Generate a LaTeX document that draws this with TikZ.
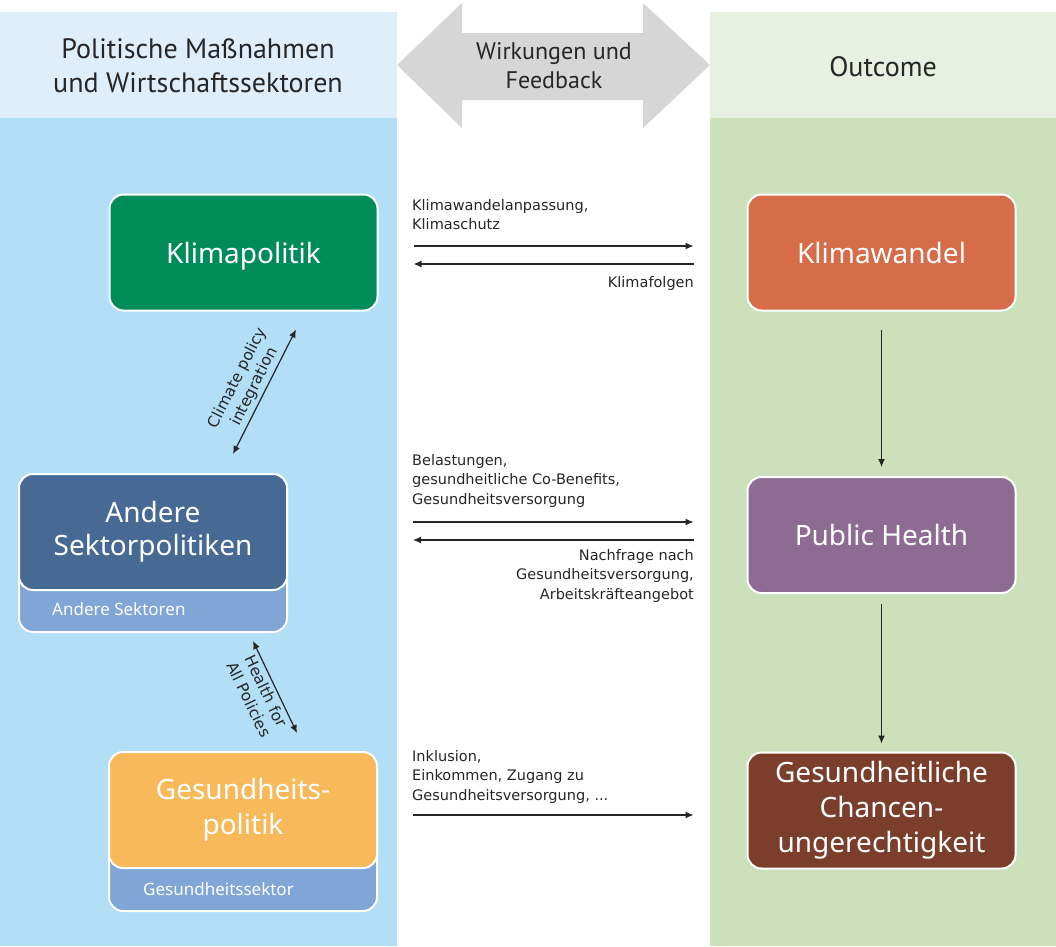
\documentclass[tikz,border=0pt]{standalone}
\usepackage{fontspec}
\setmainfont{Noto Sans}
\newfontfamily\headfont{PT Sans}
\newfontfamily\labfont{DejaVu Sans}
\usetikzlibrary{arrows.meta}
\definecolor{bluehead}{RGB}{222,239,251}
\definecolor{bluebody}{RGB}{178,222,246}
\definecolor{greenhead}{RGB}{232,240,225}
\definecolor{greenbody}{RGB}{204,224,188}
\definecolor{grayarrow}{RGB}{214,214,214}
\definecolor{cgreen}{RGB}{0,140,90}
\definecolor{cdarkblue}{RGB}{70,106,148}
\definecolor{csector}{RGB}{128,166,216}
\definecolor{corange}{RGB}{248,185,90}
\definecolor{corangered}{RGB}{214,108,72}
\definecolor{cpurple}{RGB}{141,107,147}
\definecolor{cbrown}{RGB}{123,62,43}
\tikzset{
  box/.style={draw=white, line width=2pt, rounded corners=14pt, text=white,
    minimum width=268pt, minimum height=116pt, align=center,
    font=\fontsize{28}{33}\selectfont, inner sep=0pt},
  sector/.style={box, minimum height=158pt},
  head/.style={font=\headfont\fontsize{28}{34}\selectfont, align=center, text=black!85},
  lab/.style={font=\labfont\fontsize{14.5}{19.5}\selectfont, text=black!85, inner sep=0pt},
  diaglab/.style={font=\labfont\fontsize{15.5}{19}\selectfont, align=center, text=black!85, inner sep=1pt},
  arr/.style={line width=1.2pt, draw=black!85, -{Latex[length=8pt,width=7pt]}},
  darr/.style={line width=1.2pt, draw=black!85, {Latex[length=8pt,width=7pt]}-{Latex[length=8pt,width=7pt]}},
  subl/.style={font=\fontsize{17}{20}\selectfont, text=white, anchor=west, inner sep=0pt},
}
\begin{document}
\begin{tikzpicture}[x=1pt,y=-1pt]
\useasboundingbox (0,0) rectangle (1056,946);
% columns
\fill[bluehead] (0,12) rectangle (397,118);
\fill[bluebody] (0,118) rectangle (397,946);
\fill[greenhead] (710,12) rectangle (1056,118);
\fill[greenbody] (710,118) rectangle (1056,946);
% gray double arrow
\fill[grayarrow] (397,65) -- (462,3) -- (462,33) -- (643,33) -- (643,3) -- (710,65)
  -- (643,128) -- (643,100) -- (462,100) -- (462,128) -- cycle;
% headers
\node[head] (h1) at (198,66) {Politische Maßnahmen\\und Wirtschaftssektoren};
\node[head, font=\headfont\fontsize{24}{29}\selectfont] (h2) at (554,66) {Wirkungen und\\Feedback};
\node[head] (h3) at (883,67) {Outcome};
% left boxes
\node[box, fill=cgreen, text depth=0pt] (kp) at (243.5,252.5) {Klimapolitik};
\node[sector, fill=csector] (andS) at (153,553) {};
\node[box, fill=cdarkblue] (and) at (153,532) {Andere\\Sektorpolitiken};
\node[subl] (andL) at (52,609) {Andere Sektoren};
\node[sector, fill=csector] (gesS) at (243,832) {};
\node[box, fill=corange, font=\fontsize{28}{35}\selectfont] (ges) at (243,810) {Gesundheits-\\politik};
\node[subl] (gesL) at (143,889) {Gesundheitssektor};
% right boxes
\node[box, fill=corangered] (kw) at (881.5,252.5) {Klimawandel};
\node[box, fill=cpurple] (ph) at (881.5,535) {Public Health};
\node[box, fill=cbrown, font=\fontsize{28}{35}\selectfont] (cu) at (881.5,810.5) {Gesundheitliche\\Chancen-\\ungerechtigkeit};
% vertical arrows
\draw[arr, shorten <=18pt, shorten >=9pt] (kw.south) -- (ph.north);
\draw[arr, shorten <=10pt, shorten >=8pt] (ph.south) -- (cu.north);
% horizontal arrows
\draw[arr, shorten <=35pt, shorten >=53pt] ([yshift=6.5pt]kp.east) -- ([yshift=6.5pt]kw.west);
\draw[arr, shorten <=53pt, shorten >=35pt] ([yshift=-11.5pt]kw.west) -- ([yshift=-11.5pt]kp.east);
\draw[arr, shorten <=125pt, shorten >=53pt] (and.east |- 0,522) -- (ph.west |- 0,522);
\draw[arr, shorten <=53pt, shorten >=125pt] (ph.west |- 0,540) -- (and.east |- 0,540);
\draw[arr, shorten <=35pt, shorten >=53pt] (ges.east |- 0,815) -- (cu.west |- 0,815);
% labels
\node[lab, anchor=north west, align=left] (l1) at (412,199) {Klimawandelanpassung,\\Klimaschutz};
\node[lab, anchor=north east, align=right] (l2) at (694,276) {Klimafolgen};
\node[lab, anchor=north west, align=left] (l3) at (412,454) {Belastungen,\\gesundheitliche Co-Benefits,\\Gesundheitsversorgung};
\node[lab, anchor=north east, align=right] (l4) at (694,549) {Nachfrage nach\\Gesundheitsversorgung,\\Arbeitskräfteangebot};
\node[lab, anchor=north west, align=left] (l5) at (412,750) {Inklusion,\\Einkommen, Zugang zu\\Gesundheitsversorgung, ...};
% diagonal arrows
\draw[darr] ([xshift=80pt,yshift=19pt]and.north) -- ([xshift=52.5pt,yshift=-18pt]kp.south)
  node[midway, sloped, above=2pt, diaglab] (cpi) {Climate policy\\integration};
\draw[darr] ([xshift=100pt,yshift=-8pt]andS.south) -- ([xshift=54pt,yshift=19pt]gesS.north)
  node[midway, sloped, below=2pt, diaglab] (hap) {Health for\\All Policies};
\end{tikzpicture}
\end{document}
